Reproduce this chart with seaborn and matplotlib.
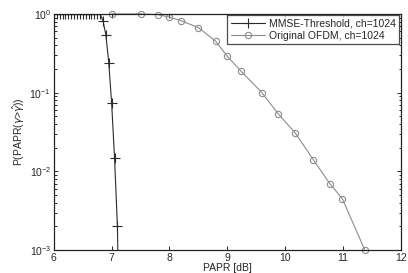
import numpy as np
import pandas as pd
import matplotlib
matplotlib.use("Agg")
import matplotlib.pyplot as plt
import seaborn as sns

# Donnees
mmse_papr = [6.0, 6.05, 6.1, 6.15, 6.2, 6.25, 6.3, 6.35, 6.4, 6.45, 6.5,
             6.55, 6.6, 6.65, 6.7, 6.75, 6.8, 6.85, 6.9, 6.95, 7.0, 7.05,
             7.1, 7.15]
mmse_ccdf = [1.0, 1.0, 1.0, 1.0, 1.0, 1.0, 1.0, 1.0, 1.0, 1.0, 1.0,
             1.0, 1.0, 1.0, 1.0, 1.0, 1.0, 0.82, 0.54, 0.24, 0.073, 0.0147,
             0.002, 1e-5]

ofdm_papr = [7.0, 7.5, 7.8, 8.0, 8.2, 8.5, 8.8, 9.0, 9.23, 9.6, 9.88,
             10.18, 10.49, 10.78, 10.99, 11.38]
ofdm_ccdf = [1.0, 1.0, 0.98, 0.91, 0.82, 0.67, 0.45, 0.29, 0.19, 0.10,
             0.054, 0.0305, 0.014, 0.0069, 0.0045, 0.001]

labels = ["MMSE-Threshold, ch=1024", "Original OFDM, ch=1024"]

df_mmse = pd.DataFrame({"papr": mmse_papr, "ccdf": mmse_ccdf})
df_ofdm = pd.DataFrame({"papr": ofdm_papr, "ccdf": ofdm_ccdf})

sns.set_style("ticks")
plt.rcParams["font.family"] = ["Liberation Sans", "DejaVu Sans"]

fig, ax = plt.subplots(figsize=(4.08, 2.73), dpi=100)
fig.subplots_adjust(left=0.132, right=0.982, top=0.949, bottom=0.084)

sns.lineplot(data=df_mmse, x="papr", y="ccdf", ax=ax, color="#2a2a2a",
             linewidth=0.8, marker="+", markersize=6.5, markeredgewidth=0.8,
             markeredgecolor="#2a2a2a", label=labels[0], clip_on=True)
sns.lineplot(data=df_ofdm, x="papr", y="ccdf", ax=ax, color="#8c8c8c",
             linewidth=0.8, marker="o", markersize=4.5, markerfacecolor="none",
             markeredgewidth=0.8, markeredgecolor="#8c8c8c",
             label=labels[1], clip_on=False)

ax.set_yscale("log")
ax.set_xlim(6, 12)
ax.set_ylim(1e-3, 1)
ax.set_xticks([6, 7, 8, 9, 10, 11, 12])

ax.set_xlabel("PAPR [dB]", fontsize=7.5, labelpad=0)
ax.set_ylabel(r"P(PAPR($\gamma$>$\hat{\gamma}$))", fontsize=7.5, labelpad=2)

ax.tick_params(which="both", direction="in", top=True, right=True,
               labelsize=7.5, pad=2, width=0.7)
ax.tick_params(which="major", length=3)
ax.tick_params(which="minor", length=1.8)
for s in ax.spines.values():
    s.set_linewidth(0.9)
    s.set_color("#222222")

leg = ax.legend(loc="upper right", fontsize=7.5, frameon=True, fancybox=False,
                borderaxespad=0.15, handlelength=3.3, handletextpad=0.4,
                borderpad=0.3, labelspacing=0.2)
leg.get_frame().set_edgecolor("#222222")
leg.get_frame().set_linewidth(0.9)

fig.savefig("out.png", dpi=100)
